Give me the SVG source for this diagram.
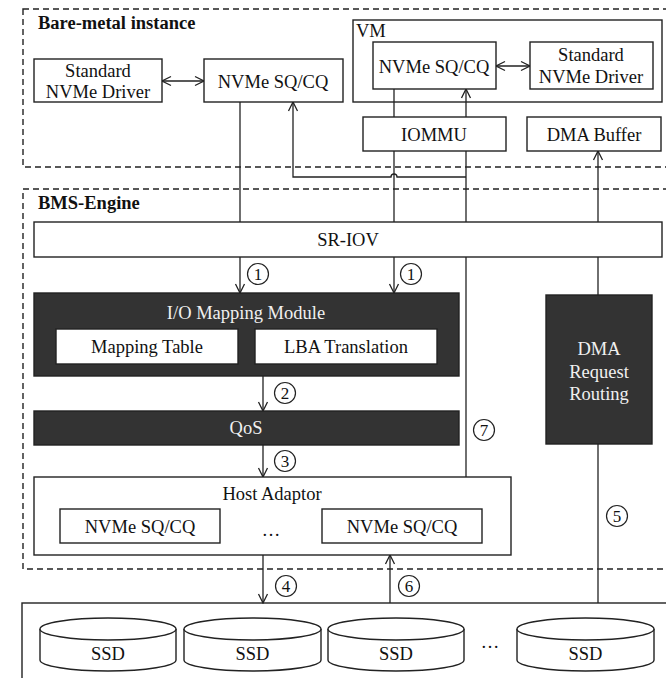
<svg xmlns="http://www.w3.org/2000/svg" width="666" height="678" viewBox="0 0 666 678">
  <style>
    .box { fill: #fff; stroke: #222; stroke-width: 1.4; }
    .frame { fill: none; stroke: #222; stroke-width: 1.4; }
    .dark { fill: #333; stroke: #222; stroke-width: 1.4; }
    .zone { fill: none; stroke: #222; stroke-width: 1.4; stroke-dasharray: 6 4; }
    .t { font-family: "Liberation Serif", "Times New Roman", serif; font-size: 18.5px; fill: #111; text-anchor: middle; }
    .tw { font-family: "Liberation Serif", "Times New Roman", serif; font-size: 18.5px; fill: #f0f0f0; text-anchor: middle; }
    .title { font-family: "Liberation Serif", "Times New Roman", serif; font-size: 18.5px; font-weight: bold; fill: #111; }
    .num { font-family: "Liberation Serif", "Times New Roman", serif; font-size: 17px; fill: #111; text-anchor: middle; }
    .ring { fill: #fff; stroke: #222; stroke-width: 1.2; }
    .wire { fill: none; stroke: #222; stroke-width: 1.3; }
  </style>
  <defs>
    <marker id="arr" viewBox="-11 -6 12 12" refX="0" refY="0" markerWidth="12" markerHeight="12" markerUnits="userSpaceOnUse" orient="auto-start-reverse">
      <path d="M-9,-4.5 L0,0 L-9,4.5" fill="none" stroke="#222" stroke-width="1.3"/>
    </marker>
  </defs>

  <rect width="666" height="678" fill="#fff"/>

  <!-- dashed zones -->
  <g id="zones">
    <rect class="zone" x="23" y="9" width="660" height="158"/>
    <rect class="zone" x="23" y="189" width="660" height="380"/>
    <rect class="box" x="22" y="603" width="660" height="90"/>
  </g>

  <!-- connectors -->
  <g id="connectors">
    <line class="wire" x1="162" y1="81" x2="204" y2="81" marker-start="url(#arr)" marker-end="url(#arr)"/>
    <line class="wire" x1="496" y1="66" x2="530" y2="66" marker-start="url(#arr)" marker-end="url(#arr)"/>
    <line class="wire" x1="240" y1="102" x2="240" y2="222"/>
    <line class="wire" x1="240" y1="257" x2="240" y2="293" marker-end="url(#arr)"/>
    <line class="wire" x1="394" y1="89" x2="394" y2="117"/>
    <line class="wire" x1="394" y1="151" x2="394" y2="222"/>
    <line class="wire" x1="394" y1="257" x2="394" y2="293" marker-end="url(#arr)"/>
    <line class="wire" x1="466" y1="117" x2="466" y2="89" marker-end="url(#arr)"/>
    <line class="wire" x1="466" y1="477" x2="466" y2="151"/>
    <path class="wire" d="M466,177 H397 A3,3 0 0 0 391,177 H293 V102" marker-end="url(#arr)"/>
    <line class="wire" x1="263" y1="376" x2="263" y2="411" marker-end="url(#arr)"/>
    <line class="wire" x1="263" y1="445" x2="263" y2="477" marker-end="url(#arr)"/>
    <line class="wire" x1="263" y1="555" x2="263" y2="603" marker-end="url(#arr)"/>
    <line class="wire" x1="390" y1="603" x2="390" y2="555" marker-end="url(#arr)"/>
    <line class="wire" x1="598" y1="603" x2="598" y2="444"/>
    <line class="wire" x1="598" y1="295" x2="598" y2="151" marker-end="url(#arr)"/>
  </g>

  <!-- bare-metal instance -->
  <text class="title" x="38" y="29">Bare-metal instance</text>
  <g id="bm-driver">
    <rect class="box" x="34" y="59" width="128" height="43"/>
    <text class="t" x="98" y="77">Standard</text>
    <text class="t" x="98" y="98">NVMe Driver</text>
  </g>
  <g id="bm-queue">
    <rect class="box" x="204" y="59" width="139" height="43"/>
    <text class="t" x="273" y="88">NVMe SQ/CQ</text>
  </g>

  <!-- virtual machine -->
  <g id="vm">
    <rect class="frame" x="353" y="20" width="309" height="82"/>
    <text class="t" x="356" y="37" style="text-anchor:start">VM</text>
  </g>
  <g id="vm-queue">
    <rect class="box" x="373" y="42" width="123" height="47"/>
    <text class="t" x="434" y="73">NVMe SQ/CQ</text>
  </g>
  <g id="vm-driver">
    <rect class="box" x="530" y="42" width="123" height="47"/>
    <text class="t" x="591" y="61">Standard</text>
    <text class="t" x="591" y="83">NVMe Driver</text>
  </g>
  <g id="iommu">
    <rect class="box" x="363" y="117" width="143" height="34"/>
    <text class="t" x="434" y="141">IOMMU</text>
  </g>
  <g id="dma-buffer">
    <rect class="box" x="527" y="117" width="134" height="34"/>
    <text class="t" x="594" y="141">DMA Buffer</text>
  </g>

  <!-- BMS-Engine -->
  <text class="title" x="38" y="209">BMS-Engine</text>
  <g id="sriov">
    <rect class="box" x="34" y="222" width="628" height="35"/>
    <text class="t" x="348" y="246">SR-IOV</text>
  </g>
  <g id="io-mapping">
    <rect class="dark" x="34" y="293" width="425" height="83"/>
    <text class="tw" x="246" y="319">I/O Mapping Module</text>
    <rect class="box" x="56" y="329" width="182" height="35"/>
    <text class="t" x="147" y="353">Mapping Table</text>
    <rect class="box" x="255" y="329" width="182" height="35"/>
    <text class="t" x="346" y="353">LBA Translation</text>
  </g>
  <g id="qos">
    <rect class="dark" x="34" y="411" width="425" height="34"/>
    <text class="tw" x="246" y="434">QoS</text>
  </g>
  <g id="host-adaptor">
    <rect class="box" x="34" y="477" width="477" height="78"/>
    <text class="t" x="272" y="500">Host Adaptor</text>
    <rect class="box" x="60" y="509" width="160" height="34"/>
    <text class="t" x="140" y="533">NVMe SQ/CQ</text>
    <text class="t" x="271" y="536">…</text>
    <rect class="box" x="322" y="509" width="160" height="34"/>
    <text class="t" x="402" y="533">NVMe SQ/CQ</text>
  </g>
  <g id="dma-routing">
    <rect class="dark" x="546" y="295" width="106" height="149"/>
    <text class="tw" x="599" y="355">DMA</text>
    <text class="tw" x="599" y="378">Request</text>
    <text class="tw" x="599" y="400">Routing</text>
  </g>

  <!-- step markers -->
  <g id="steps">
    <circle class="ring" cx="258" cy="274" r="10.5"/><text class="num" x="258" y="280">1</text>
    <circle class="ring" cx="411" cy="274" r="10.5"/><text class="num" x="411" y="280">1</text>
    <circle class="ring" cx="285" cy="393" r="10.5"/><text class="num" x="285" y="399">2</text>
    <circle class="ring" cx="285" cy="461" r="10.5"/><text class="num" x="285" y="467">3</text>
    <circle class="ring" cx="286" cy="586" r="10.5"/><text class="num" x="286" y="592">4</text>
    <circle class="ring" cx="617" cy="516" r="10.5"/><text class="num" x="617" y="522">5</text>
    <circle class="ring" cx="409" cy="586" r="10.5"/><text class="num" x="409" y="592">6</text>
    <circle class="ring" cx="484" cy="430" r="10.5"/><text class="num" x="484" y="436">7</text>
  </g>

  <!-- storage -->
  <g id="ssd-1">
    <path class="box" d="M40,629 V660 A68,11 0 0 0 176,660 V629"/>
    <ellipse class="box" cx="108" cy="629" rx="68" ry="11"/>
    <text class="t" x="108" y="660">SSD</text>
  </g>
  <g id="ssd-2">
    <path class="box" d="M184,629 V660 A68.5,11 0 0 0 321,660 V629"/>
    <ellipse class="box" cx="252.5" cy="629" rx="68.5" ry="11"/>
    <text class="t" x="252.5" y="660">SSD</text>
  </g>
  <g id="ssd-3">
    <path class="box" d="M328,629 V660 A68,11 0 0 0 464,660 V629"/>
    <ellipse class="box" cx="396" cy="629" rx="68" ry="11"/>
    <text class="t" x="396" y="660">SSD</text>
  </g>
  <text class="t" x="490" y="648">…</text>
  <g id="ssd-4">
    <path class="box" d="M517,629 V660 A68.5,11 0 0 0 654,660 V629"/>
    <ellipse class="box" cx="585.5" cy="629" rx="68.5" ry="11"/>
    <text class="t" x="585.5" y="660">SSD</text>
  </g>
</svg>
